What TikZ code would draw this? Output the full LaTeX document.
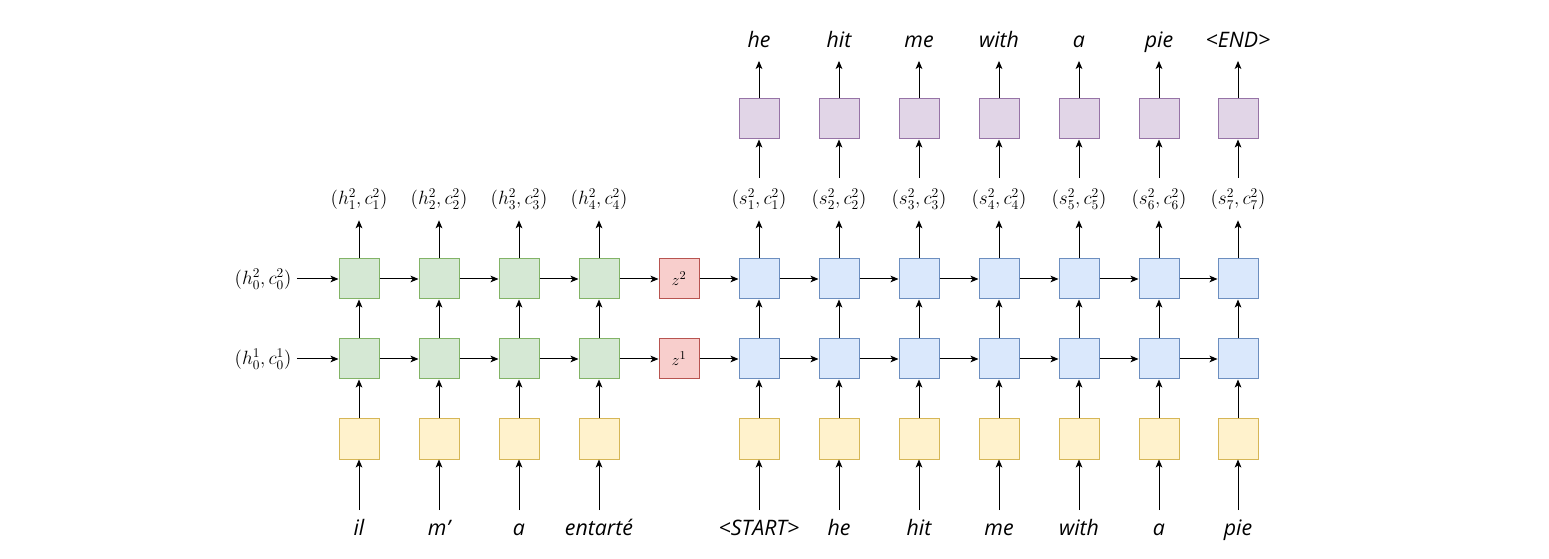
\documentclass[tikz,border=0pt]{standalone}
\usepackage{fontspec}
\newfontfamily\wordfont{Open Sans}
\usetikzlibrary{arrows.meta}

\definecolor{encfill}{HTML}{D5E8D4}
\definecolor{encdraw}{HTML}{82B366}
\definecolor{decfill}{HTML}{DAE8FC}
\definecolor{decdraw}{HTML}{6C8EBF}
\definecolor{embfill}{HTML}{FFF2CC}
\definecolor{embdraw}{HTML}{D6B656}
\definecolor{ctxfill}{HTML}{F8CECC}
\definecolor{ctxdraw}{HTML}{B85450}
\definecolor{outfill}{HTML}{E1D5E7}
\definecolor{outdraw}{HTML}{9673A6}

\begin{document}
\begin{tikzpicture}[x=0.75pt, y=-0.75pt, >={Stealth[length=6pt, width=5pt, inset=1.5pt]}]
	\tikzstyle{cell}    = [rectangle, minimum size=30pt, inner sep=0pt, line width=0.75pt]
	\tikzstyle{enc}     = [cell, draw=encdraw, fill=encfill]
	\tikzstyle{dec}     = [cell, draw=decdraw, fill=decfill]
	\tikzstyle{emb}     = [cell, draw=embdraw, fill=embfill]
	\tikzstyle{ctx}     = [cell, draw=ctxdraw, fill=ctxfill, font=\fontsize{13}{15}\selectfont]
	\tikzstyle{outcell} = [cell, draw=outdraw, fill=outfill]
	\tikzstyle{state}   = [minimum height=31.5pt, inner sep=2pt, inner xsep=4pt, font=\fontsize{14}{17}\selectfont]
	\tikzstyle{word}    = [anchor=base, text height=12pt, text depth=3pt, inner sep=6.5pt, font=\wordfont\itshape\fontsize{16}{19}\selectfont]
	\tikzstyle{link}    = [->, line width=0.75pt]

	\useasboundingbox (0,0) rectangle (1549,559);

	% encoder
	\foreach \i/\x/\w in {1/359/il, 2/439/m’, 3/519/a, 4/599/entarté} {
		\node[word] (ew\i) at (\x, 535) {\w};
		\node[emb] (ex\i) at (\x, 439) {};
		\node[enc] (ea\i) at (\x, 359) {};
		\node[enc] (eb\i) at (\x, 279) {};
		\node[state] (eh\i) at (\x, 199) {$(h^2_\i, c^2_\i)$};
		\draw[link] (ew\i) -- (ex\i);
		\draw[link] (ex\i) -- (ea\i);
		\draw[link] (ea\i) -- (eb\i);
		\draw[link] (eb\i) -- (eh\i);
	}
	\node[state] (ha) at (263, 359) {$(h^1_0, c^1_0)$};
	\node[state] (hb) at (263, 279) {$(h^2_0, c^2_0)$};
	\draw[link] (ha) -- (ea1);
	\draw[link] (hb) -- (eb1);

	% context
	\node[ctx] (za) at (679, 359) {$z^1$};
	\node[ctx] (zb) at (679, 279) {$z^2$};

	% decoder
	\foreach \i/\x/\w/\v in {1/759/<START>/he, 2/839/he/hit, 3/919/hit/me, 4/999/me/with, 5/1079/with/a, 6/1159/a/pie, 7/1238/pie/<END>} {
		\node[word] (dw\i) at (\x, 535) {\w};
		\node[emb] (dx\i) at (\x, 439) {};
		\node[dec] (da\i) at (\x, 359) {};
		\node[dec] (db\i) at (\x, 279) {};
		\node[state] (ds\i) at (\x, 199) {$(s^2_\i, c^2_\i)$};
		\node[outcell] (dp\i) at (\x, 119) {};
		\node[word] (dy\i) at (\x, 48) {\v};
		\draw[link] (dw\i) -- (dx\i);
		\draw[link] (dx\i) -- (da\i);
		\draw[link] (da\i) -- (db\i);
		\draw[link] (db\i) -- (ds\i);
		\draw[link] (ds\i) -- (dp\i);
		\draw[link] (dp\i) -- (dy\i);
	}

	\foreach \from/\to in {ea1/ea2, ea2/ea3, ea3/ea4, ea4/za, za/da1, da1/da2, da2/da3, da3/da4, da4/da5, da5/da6, da6/da7,
		eb1/eb2, eb2/eb3, eb3/eb4, eb4/zb, zb/db1, db1/db2, db2/db3, db3/db4, db4/db5, db5/db6, db6/db7}
		\draw[link] (\from) -- (\to);
\end{tikzpicture}
\end{document}
